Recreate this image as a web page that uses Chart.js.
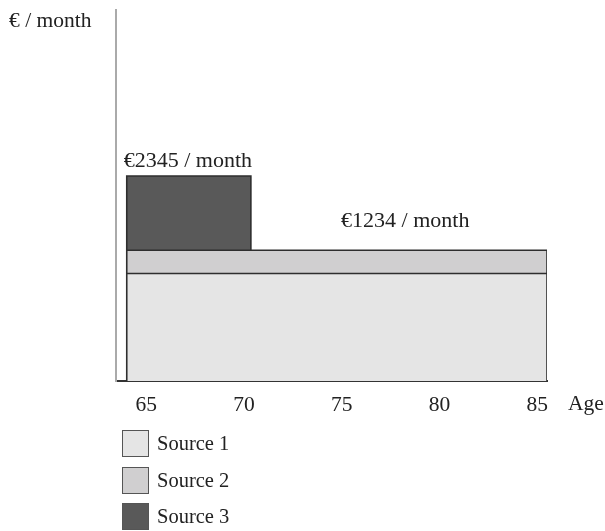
<!DOCTYPE html>
<html>
<head>
<meta charset="utf-8">
<script src="https://cdn.jsdelivr.net/npm/chart.js@4/dist/chart.umd.min.js"></script>
<style>
  html, body { margin: 0; padding: 0; background: #fff; }
  #wrap { position: relative; width: 605px; height: 531px; overflow: hidden; }
  #c { position: absolute; left: 0; top: 0; }
  .lg { position: absolute; left: 122px; height: 28px; display: flex; align-items: center;
        font-family: "Liberation Serif", "Times New Roman", serif; font-size: 20.5px; color: #222; }
  .lg .box { width: 25px; height: 25px; border: 1.5px solid #555; margin-right: 8px; box-sizing: content-box; }
</style>
</head>
<body>
<div id="wrap">
  <canvas id="c" width="605" height="531"></canvas>
</div>
<script>
// ---- data ----
const series     = ['Source 1', 'Source 2', 'Source 3'];
const ageStart   = [64, 64, 64];
const ageEnd     = [85.5, 85.5, 70.35];
const monthly    = [1014, 220, 700];          // stacked layer heights (€ / month)
const xTicks     = [65, 70, 75, 80, 85];
const annotations = ['€2345 / month', '€1234 / month'];
const yTitle     = '€ / month';
const xTitle     = 'Age';

// ---- styles ----
const fills   = ['#e5e5e5', '#d0cfd0', '#595959'];
const FONT    = '"Liberation Serif", "Times New Roman", serif';
const TEXTCOL = '#222';

// build closed rectangle polygons, stacked
const bases = monthly.map((v, i) => monthly.slice(0, i).reduce((a, b) => a + b, 0));
const datasets = series.map((name, i) => {
  const b = bases[i], t = bases[i] + monthly[i];
  return {
    label: name,
    data: [
      { x: ageStart[i], y: b },
      { x: ageStart[i], y: t },
      { x: ageEnd[i],   y: t },
      { x: ageEnd[i],   y: b }
    ],
    backgroundColor: fills[i],
    borderColor: '#2e2e2e',
    borderWidth: 1.6,
    pointRadius: 0,
    tension: 0,
    fill: { value: b }
  };
});

const textPlugin = {
  id: 'texts',
  afterDatasetsDraw(chart) {
    const { ctx, scales: { x, y }, chartArea } = chart;
    ctx.save();
    ctx.fillStyle = TEXTCOL;
    ctx.textBaseline = 'alphabetic';
    ctx.font = '22px ' + FONT;
    // annotation above source 3
    const top3 = bases[2] + monthly[2];
    ctx.textAlign = 'left';
    ctx.fillText(annotations[0], x.getPixelForValue(ageStart[2]) - 3, y.getPixelForValue(top3) - 9);
    // annotation above source 2
    const top2 = bases[1] + monthly[1];
    ctx.textAlign = 'center';
    ctx.fillText(annotations[1], x.getPixelForValue(78.25), y.getPixelForValue(top2) - 23);
    // axis titles
    ctx.font = '21.5px ' + FONT;
    ctx.textAlign = 'left';
    ctx.fillText(yTitle, 9, 27);
    ctx.fillText(xTitle, chartArea.right + 21, chartArea.bottom + 29);
    ctx.restore();
  }
};

const chart = new Chart(document.getElementById('c'), {
  type: 'line',
  data: { datasets },
  plugins: [textPlugin],
  options: {
    responsive: false,
    animation: false,
    devicePixelRatio: 1,
    layout: { padding: { left: 116, right: 58, top: 10, bottom: 110 } },
    plugins: { legend: { display: false }, tooltip: { enabled: false } },
    scales: {
      x: {
        type: 'linear',
        min: 63.45,
        max: 85.5,
        grid: { display: false, drawTicks: false },
        border: { display: true, color: '#333', width: 2 },
        afterBuildTicks: (s) => { s.ticks = xTicks.map(v => ({ value: v })); },
        afterFit: (s) => { s.height = 40; },
        ticks: { color: TEXTCOL, font: { family: FONT, size: 21.5 }, padding: 11, maxRotation: 0, autoSkip: false }
      },
      y: {
        type: 'linear',
        min: 0,
        max: 3500,
        grid: { display: false, drawTicks: false },
        border: { display: true, color: '#aaa', width: 2 },
        ticks: { display: false },
        afterFit: (s) => { s.width = 0; }
      }
    }
  }
});

// HTML legend built from the chart's datasets
const wrap = document.getElementById('wrap');
const legendTops = [429, 466, 502];
chart.data.datasets.forEach((ds, i) => {
  const item = document.createElement('div');
  item.className = 'lg';
  item.style.top = legendTops[i] + 'px';
  const box = document.createElement('span');
  box.className = 'box';
  box.style.background = ds.backgroundColor;
  const txt = document.createElement('span');
  txt.textContent = ds.label;
  item.appendChild(box);
  item.appendChild(txt);
  wrap.appendChild(item);
});
</script>
</body>
</html>
